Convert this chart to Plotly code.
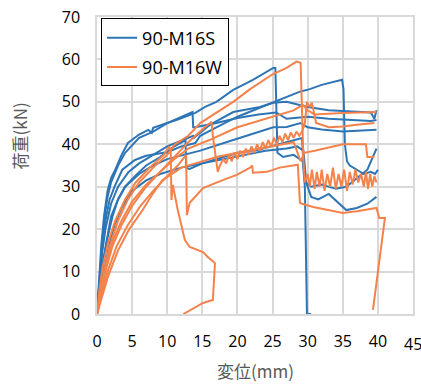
import plotly.graph_objects as go

BLUE = "#2E75B6"
ORANGE = "#F4824A"

# ---- 90-M16S specimens (blue) ----
b1_x = [0,0.3,0.6,1,1.5,2,2.6,3.5,4.4,6,7.3,7.8,8,10,11.5,14,15.4,17,19.4,22.2,25.1,25.4,25.5,25.7,26.5,28,29.3,29.6,29.8,29.9,30.5]
b1_y = [0,8,16,23,29,32,34,37.5,40.3,42.3,43.4,42.7,43.9,45,45.8,47.4,48.8,50,52.8,55.2,58,58,50,38,37,37.5,36,30,10,0,0]

b2_x = [0,0.3,0.7,1.2,1.8,2.5,3.6,5.4,7,10.1,12,14,14.7,17,20,23,26,28.9,30.3,32,34.9,35.1,35.3,35.6,36,37,38,39,39.6,40]
b2_y = [0,7,15,22,27,30,34,36.3,37.3,38.2,39.5,40.3,42,44,46.5,48.5,50.5,52.4,53,54,55.2,53,40,36,35,34,33,33.5,33,34]

b3_x = [0,0.3,0.7,1.2,2,3,4.5,6,8,10,13.7,13.8,16,19.4,23.2,25.1,27,30,33,36,39,39.5,39.8]
b3_y = [0,6,14,20,26,30,33.5,35.5,37.5,39.5,42,41.5,44.5,47.6,48.8,49.8,50,48.8,48,47.8,47.5,46,48]

b4_x = [0,0.3,0.6,1,1.5,2,3,4,6,8,10,12,13.6,13.7,14,17,20,23,25.5,27,30,33,36,39,39.8]
b4_y = [0,7,15,22,27.5,31,35,38,41.5,43,45,46.5,47.6,44,44,45,46.2,47,47.5,46,46.5,46,45.8,45.5,45.7]

b5_x = [0,0.4,0.8,1.4,2,3,4,6,8,10,14.7,19.4,23.2,25.1,27,29,30,32,35,38,39.8]
b5_y = [0,5,12,18,23,27,30,33,35,36.5,38.5,41,43,44,44.1,45,44,43.5,43,43.2,43.4]

b6_x = [0,0.4,0.9,1.5,2.2,3,4,5.4,7,9,11,12.6,12.7,13.2,15,18,20,23,26,28,29.2,29.4,29.7,30.5,32,34,35.5,37,38.5,39.8]
b6_y = [0,5,12,18,23,27,30,32.5,35,37,39.5,41,34.4,34.2,35.5,37,38,38.7,40,41,41.5,35,31,30,30.5,29.5,30,32,34,39]

b7_x = [0,0.5,1,1.7,2.5,3.5,5,7,9,12,15,18,21,24,27,28.5,29.4,29.8,30.5,31.5,33,34.5,35.5,37,38.5,39.8]
b7_y = [0,4,10,16,21,25,29,31.5,33,34.5,35.5,36.5,37.5,38.5,39,39.5,38.5,31,27.6,27,28.3,26,24.5,25,26,27.6]

# ---- 90-M16W specimens (orange) ----
o1_x = [0,0.4,1,1.8,3,4.4,6,8,10,11.1,13,14.7,17,19.4,21.8,23.2,25,27,28.4,29,29.2,29.4,29.6,30,30.3,30.6,31,31.3,31.7,32,32.4,32.8,33.2,33.6,34,34.4,34.8,35.2,35.6,36,36.4,36.8,37.2,37.6,38,38.3,38.6,38.9,39.2,39.5,39.8]
o1_y = [0,4,10,16,22,27,31,34.5,37.5,40,42,45,47.5,50,53,54.5,56.5,58,59.5,59.2,45,36,31,33,30,34,29.5,33.5,30,34,29,33,30,34.5,29.5,33,30,34,29,33.5,30.5,34,31,33,30,33.5,29.5,33,30,32.5,31]

o2_x = [0,0.3,0.8,1.6,2.6,4,5.5,7.5,9.5,10.3,10.5,10.6,10.8,11.5,12.5,13.2,15.1,15.8,16.8,16.5,15.1,12.3]
o2_y = [0,5,11,17,22,27,31,34.5,37.5,39.5,38,26.9,30.4,24.5,17.5,15.8,14.6,13.4,12,3.3,2.6,0]

o3_x = [0,0.5,1.2,2.2,3.5,5,7,9,11,13,15,16.3,16.5,16.8,17.2,17.5,18,18.4,18.8,19.2,19.6,20,20.4,20.8,21.2,21.6,22,22.4,22.8,23.2,23.6,24,24.4,24.8,25.2,25.6,26,26.4,26.8,27.2,27.6,28,28.4,28.8,29.2,29.6,29.9,30.3,30.6,30.9,31.2,33,35,37,39.5]
o3_y = [0,4,10,16,21,25.5,30,33.5,37,40.5,43.5,45.3,42,38,33.5,35,36.5,35.5,37.5,36,38,36.5,38.5,37,39,37.5,39.5,38,40,38.5,40.5,39,41,39.5,41.5,40,42,40.5,42.5,41,42.8,41.5,43,42,43,45,50,48.8,49.8,47.4,45,44,44.2,44.6,45]

o4_x = [0,0.6,1.5,2.8,4.4,6.2,8,10,11.5,12.7,12.8,13.2,15.1,18,19.9,21.8,22.1,22.2,24.2,26,28.6,28.9,29.2,30.8,33,35,37,39.8,40.2,41,39.3]
o4_y = [0,4,10,16,21,25.5,29,32.5,35,37.5,23.3,26.2,29.7,31.6,32.8,34.5,35,33.3,33.5,34.5,35.2,26.2,26,25.2,24.5,23.8,24.2,25,22.6,22.6,1]

o5_x = [0,0.5,1.2,2.2,3.5,5,7,9,11,13,16,20,25,28,29.3,30,31,35,39.8]
o5_y = [0,5,11,17,22,26.5,30.5,33.5,36.5,39,41,44,46.5,48,49.3,48,47,47.4,47.6]

o6_x = [0,0.7,1.6,3,4.6,6.5,8,9.3,12,14,17,20,25,28,29,29.5,31,35,38.3,38.5,39.5]
o6_y = [0,4,9,15,20,24.5,28.5,31.5,34.5,35.5,37,38,39.5,40.5,36,38,38.5,40,40,37,37]

x_ticks = [0, 5, 10, 15, 20, 25, 30, 35, 40]
x_last_tick = 45
y_ticks = [0, 10, 20, 30, 40, 50, 60, 70]

blue_series = [(b1_x, b1_y), (b2_x, b2_y), (b3_x, b3_y), (b4_x, b4_y), (b5_x, b5_y), (b6_x, b6_y), (b7_x, b7_y)]
orange_series = [(o1_x, o1_y), (o2_x, o2_y), (o3_x, o3_y), (o4_x, o4_y), (o5_x, o5_y), (o6_x, o6_y)]

fig = go.Figure()
for i, (xs, ys) in enumerate(blue_series):
    fig.add_trace(go.Scatter(x=xs, y=ys, mode="lines", line=dict(color=BLUE, width=2),
                             name="90-M16S", legendgroup="s", showlegend=(i == 0)))
for i, (xs, ys) in enumerate(orange_series):
    fig.add_trace(go.Scatter(x=xs, y=ys, mode="lines", line=dict(color=ORANGE, width=2),
                             name="90-M16W", legendgroup="w", showlegend=(i == 0)))

font_family = "Open Sans, Noto Sans CJK JP, sans-serif"
fig.update_layout(
    width=421, height=385,
    margin=dict(l=97, r=8, t=17, b=71, autoexpand=False),
    paper_bgcolor="white", plot_bgcolor="white",
    font=dict(family=font_family, size=17, color="#000000"),
    showlegend=True,
    legend=dict(x=0.013, y=0.995, xanchor="left", yanchor="top",
                bgcolor="white", bordercolor="#000000", borderwidth=1,
                font=dict(size=18, color="#000000"), tracegroupgap=3),
    xaxis=dict(range=[0, 45], tickvals=x_ticks + [x_last_tick],
               ticktext=[str(v) for v in x_ticks] + [""],
               showgrid=True, gridcolor="#D9D9D9", gridwidth=1.5, zeroline=False,
               showline=True, linecolor="#D9D9D9", linewidth=1.5, mirror=True,
               ticks="", ticklabelstandoff=12, tickfont=dict(size=16), automargin=False),
    yaxis=dict(range=[0, 70], tickvals=y_ticks, ticktext=[str(v) for v in y_ticks],
               showgrid=True, gridcolor="#D9D9D9", gridwidth=1.5, zeroline=False,
               showline=True, linecolor="#D9D9D9", linewidth=1.5, mirror=True,
               ticks="", ticklabelstandoff=12, tickfont=dict(size=16), automargin=False),
    annotations=[
        dict(text=str(x_last_tick), xref="x", yref="paper", x=x_last_tick, y=-0.102,
             xanchor="center", yanchor="middle", showarrow=False,
             font=dict(size=16, color="#000000")),
        dict(text="変位(mm)", xref="paper", yref="paper", x=0.5, y=-0.19,
             xanchor="center", yanchor="middle", showarrow=False,
             font=dict(size=17, color="#595959", family="Noto Sans CJK JP, sans-serif")),
        dict(text="荷重(kN)", xref="paper", yref="paper", x=-0.245, y=0.6,
             xanchor="center", yanchor="middle", showarrow=False, textangle=-90,
             font=dict(size=17, color="#595959", family="Noto Sans CJK JP, sans-serif")),
    ],
)

fig.write_html("out.html", config={"displayModeBar": False},
               post_script="document.body.style.margin='0';document.body.style.overflow='hidden';")
